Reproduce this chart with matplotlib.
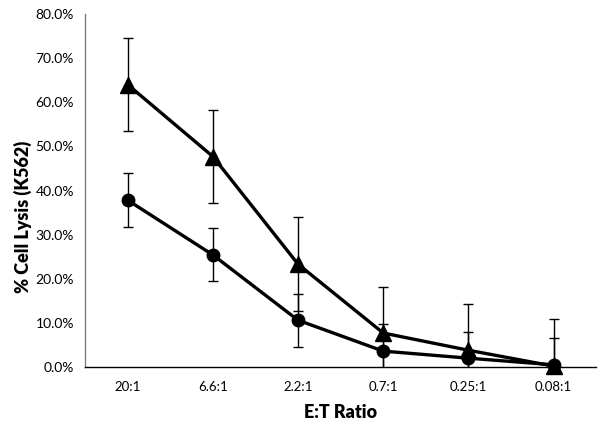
import matplotlib
matplotlib.use("Agg")
import matplotlib.pyplot as plt
from matplotlib.ticker import PercentFormatter

categories = ["20:1", "6.6:1", "2.2:1", "0.7:1", "0.25:1", "0.08:1"]
triangle_vals = [64.0, 47.7, 23.3, 7.7, 3.8, 0.2]
triangle_err = [10.6, 10.6, 10.6, 10.5, 10.5, 10.6]
circle_vals = [37.8, 25.4, 10.6, 3.6, 2.0, 0.5]
circle_err = [6.1, 6.0, 6.0, 6.2, 6.0, 6.1]
yticks = [0, 10, 20, 30, 40, 50, 60, 70, 80]

plt.rcParams['font.family'] = ['Lato', 'DejaVu Sans']

fig = plt.figure(figsize=(6.04, 4.26), dpi=100)
ax = fig.add_axes([0.141, 0.1385, 0.846, 0.8285])

x = list(range(len(categories)))
ax.errorbar(x, triangle_vals, yerr=triangle_err, fmt='none', ecolor='black',
            elinewidth=1.0, capsize=3.5, capthick=1.0, zorder=2)
ax.errorbar(x, circle_vals, yerr=circle_err, fmt='none', ecolor='black',
            elinewidth=1.0, capsize=3.5, capthick=1.0, zorder=2)
ax.plot(x, triangle_vals, color='black', lw=2.4, marker='^', markersize=12,
        zorder=3, clip_on=False)
ax.plot(x, circle_vals, color='black', lw=2.4, marker='o', markersize=9,
        zorder=3, clip_on=False)

ax.set_xlim(-0.5, len(categories) - 0.5)
ax.set_ylim(0, 80)
ax.set_xticks(x)
ax.set_xticklabels(categories, fontsize=9.5)
ax.set_yticks(yticks)
ax.yaxis.set_major_formatter(PercentFormatter(decimals=1))
ax.tick_params(axis='y', length=0, labelsize=10, pad=8)
ax.tick_params(axis='x', length=0, labelsize=9.5, pad=10)

for s in ['top', 'right']:
    ax.spines[s].set_visible(False)
ax.spines['left'].set_color('#7f7f7f')
ax.spines['left'].set_linewidth(1.0)
ax.spines['bottom'].set_color('black')
ax.spines['bottom'].set_linewidth(1.0)

ax.set_xlabel("E:T Ratio", fontsize=13, fontweight='heavy', labelpad=8)
ax.set_ylabel("% Cell Lysis (K562)", fontsize=13, fontweight='heavy')
ax.yaxis.set_label_coords(-0.104, 0.425)

fig.savefig("out.png", dpi=100)
